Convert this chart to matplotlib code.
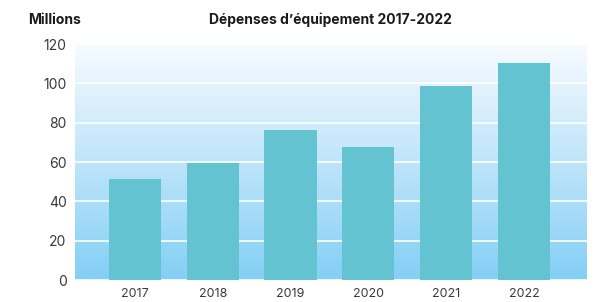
import numpy as np
import matplotlib.pyplot as plt
from matplotlib.colors import LinearSegmentedColormap

years = ["2017", "2018", "2019", "2020", "2021", "2022"]
depenses = [51.5, 59.5, 76.2, 67.6, 98.6, 110.3]
yticks = [0, 20, 40, 60, 80, 100, 120]

plt.rcParams['font.family'] = ['Inter', 'DejaVu Sans']

fig = plt.figure(figsize=(6.01, 3.02), dpi=100)
ax = fig.add_axes([75 / 601, 22 / 302, 512 / 601, 236 / 302])

# background gradient (light at top, sky blue at bottom)
cmap = LinearSegmentedColormap.from_list("bg", ["#84cff5", "#f7fbff"])
grad = np.linspace(0, 1, 256).reshape(-1, 1)
ax.imshow(grad, cmap=cmap, aspect="auto", origin="lower",
          extent=[0, 1, 0, 1], transform=ax.transAxes, zorder=0)

x = np.arange(len(years))
ax.bar(x, depenses, width=0.67, color="#64c3d0", zorder=3)

ax.set_xlim(-0.77, 5.81)
ax.set_ylim(0, 120)
ax.set_yticks(yticks)
ax.set_xticks(x)
ax.set_xticklabels(years)
ax.yaxis.grid(True, color="white", linewidth=1.2, zorder=1)
ax.set_axisbelow(False)
for s in ax.spines.values():
    s.set_visible(False)
ax.tick_params(length=0, colors="#3a3a3a")
ax.tick_params(axis="y", labelsize=10, pad=6)
ax.tick_params(axis="x", labelsize=9, pad=6)

fig.text(28 / 601, 1 - 20 / 302, "Millions", fontsize=10, fontweight="bold",
         color="#1a1a1a", va="center")
fig.text(330 / 601, 1 - 20 / 302, "Dépenses d\u2019équipement 2017-2022",
         fontsize=10, fontweight="bold", color="#1a1a1a", ha="center", va="center")

fig.savefig("out.png", dpi=100)
